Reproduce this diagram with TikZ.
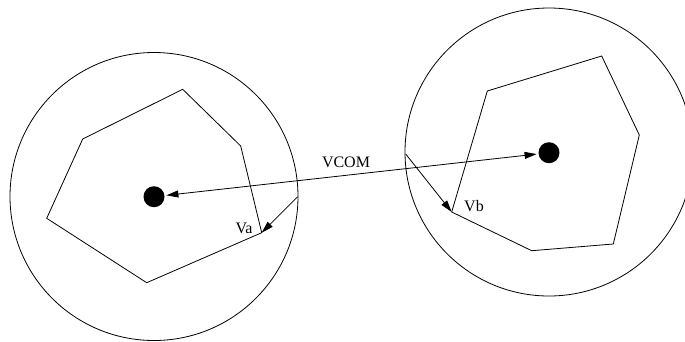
\documentclass[tikz,border=0pt]{standalone}
\usepackage{fontspec}
\setmainfont{Liberation Serif}
\usetikzlibrary{arrows.meta}
\begin{document}
\begin{tikzpicture}[x=1pt,y=-1pt,line width=0.8pt,
  bigcircle/.style={draw,circle,minimum size=288pt,inner sep=0pt,outer sep=0pt},
  dot/.style={fill,circle,minimum size=21pt,inner sep=0pt,outer sep=2pt},
  vec/.style={-{Triangle[length=12pt,width=7pt]}},
  lbl/.style={font=\fontsize{16}{18}\selectfont,inner sep=0pt}]
\useasboundingbox (0,0) rectangle (685,341);
\clip (0,0) rectangle (685,341);
% left body
\node[bigcircle] (ca) at (154,196.5) {};
\coordinate (a1) at (182.7,89.3);
\coordinate (a2) at (240.7,146);
\coordinate (a3) at (261.7,232.7);
\coordinate (a4) at (146.7,282.7);
\coordinate (a5) at (46.7,218.3);
\coordinate (a6) at (82.7,139);
\draw (a1) -- (a2) -- (a3) -- (a4) -- (a5) -- (a6) -- cycle;
\node[dot] (da) at (154,196.7) {};
% right body
\node[bigcircle] (cb) at (549,152) {};
\coordinate (b1) at (487.3,91);
\coordinate (b2) at (601.7,56);
\coordinate (b3) at (639.3,135);
\coordinate (b4) at (613.3,244);
\coordinate (b5) at (531.7,250.7);
\coordinate (b6) at (451.7,212);
\draw (b1) -- (b2) -- (b3) -- (b4) -- (b5) -- (b6) -- cycle;
\node[dot] (db) at (549,152.7) {};
% vectors
\draw[{Triangle[length=12pt,width=7pt]}-{Triangle[length=12pt,width=7pt]}] (da) -- (db);
\coordinate (sa) at (297.7,196.7);
\coordinate (sb) at (405.7,154);
\draw[vec] (sa) -- (a3);
\draw[vec] (sb) -- (b6);
\node[lbl] (vcom) at (346,162) {VCOM};
\node[lbl] (va) at (244,228) {Va};
\node[lbl] (vb) at (474,206) {Vb};
\end{tikzpicture}
\end{document}
